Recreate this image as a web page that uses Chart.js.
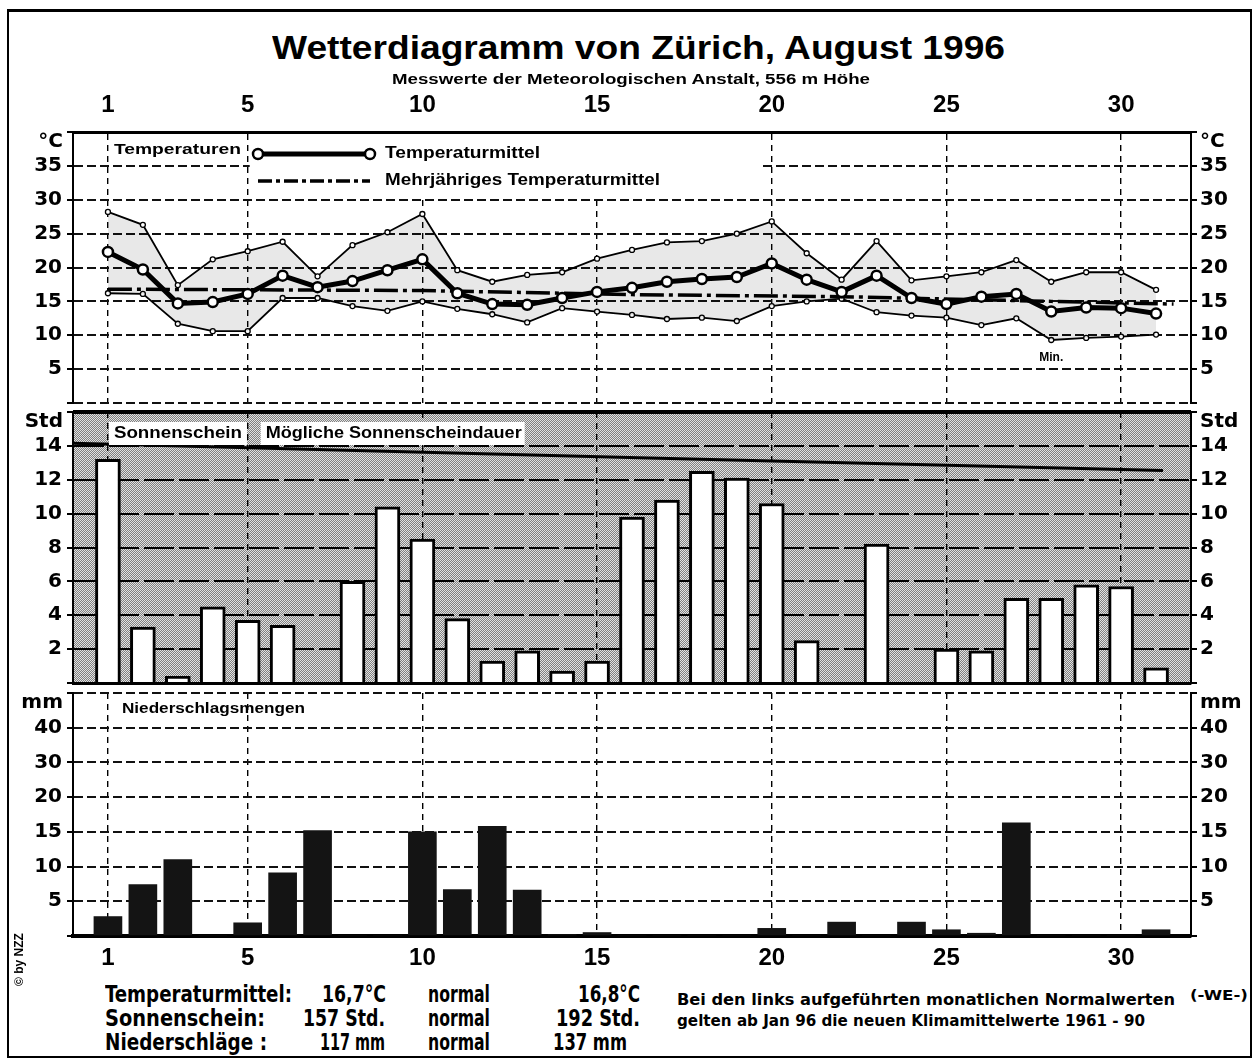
<!DOCTYPE html>
<html lang="de">
<head>
<meta charset="UTF-8">
<title>Wetterdiagramm von Zürich, August 1996</title>
<script src="https://cdn.jsdelivr.net/npm/chart.js@4.4.0/dist/chart.umd.min.js"></script>
<style>
    body { margin: 0; background: #fff; }
    #page { position: relative; width: 1260px; height: 1061px; overflow: hidden; background: #fff; }
    #frame { position: absolute; left: 7px; top: 9px; width: 1245px; height: 1049px; box-sizing: border-box;
             border: 2px solid #000; border-top-width: 3px; }
    canvas { position: absolute; left: 0; }
    .txt { position: absolute; white-space: nowrap; color: #000; line-height: 1.2; transform-origin: 0 50%; }
</style>
</head>
<body>
<div id="page">
    <div id="frame"></div>
    <canvas id="tempChart" width="1260" height="340" style="top:80px"></canvas>
    <canvas id="sunChart" width="1260" height="305" style="top:395px"></canvas>
    <canvas id="rainChart" width="1260" height="304" style="top:676px"></canvas>
</div>

<script>
    // Days of August 1996
    const days = [1, 2, 3, 4, 5, 6, 7, 8, 9, 10, 11, 12, 13, 14, 15, 16,
                  17, 18, 19, 20, 21, 22, 23, 24, 25, 26, 27, 28, 29, 30, 31];
    const dayTicks = [1, 5, 10, 15, 20, 25, 30];

    // Temperatures (°C)
    const tempMean = [22.3, 19.7, 14.7, 14.9, 16.1, 18.8, 17.1, 18.0, 19.6, 21.2, 16.2, 14.6, 14.5, 15.5, 16.4, 17.0,
                      17.9, 18.3, 18.6, 20.6, 18.2, 16.4, 18.8, 15.5, 14.6, 15.7, 16.1, 13.5, 14.1, 14.0, 13.2];
    const tempMax = [28.2, 26.3, 17.4, 21.2, 22.4, 23.8, 18.7, 23.3, 25.2, 27.9, 19.6, 17.9, 18.9, 19.3, 21.3, 22.6,
                     23.7, 23.9, 25.0, 26.8, 22.1, 18.2, 23.9, 18.1, 18.7, 19.3, 21.1, 17.9, 19.3, 19.3, 16.7];
    const tempMin = [16.2, 16.1, 11.7, 10.6, 10.6, 15.5, 15.5, 14.3, 13.6, 15.0, 13.9, 13.1, 11.9, 14.0, 13.5, 13.0,
                     12.4, 12.6, 12.1, 14.3, 15.0, 15.4, 13.4, 12.9, 12.6, 11.5, 12.5, 9.3, 9.6, 9.8, 10.1];
    const normalDays = [1, 10, 16, 22, 28, 31.5];
    const normalTemp = [16.8, 16.6, 16.0, 15.7, 15.0, 14.6];
    const tempTicks = [0, 5, 10, 15, 20, 25, 30, 35, 40];

    // Sunshine (hours)
    const sunHours = [13.2, 3.3, 0.4, 4.5, 3.7, 3.4, 0, 6.0, 10.4, 8.5, 3.8, 1.3, 1.9, 0.7, 1.3, 9.8,
                      10.8, 12.5, 12.1, 10.6, 2.5, 0, 8.2, 0, 2.0, 1.9, 5.0, 5.0, 5.8, 5.7, 0.9];
    const possibleDays = [0, 16.2, 31.2];
    const possibleHours = [14.15, 13.3, 12.55];
    const sunTicks = [0, 2, 4, 6, 8, 10, 12, 14, 16];

    // Precipitation (mm)
    const rainMm = [2.8, 7.4, 11.0, 0, 1.9, 9.1, 15.2, 0, 0, 15.0, 6.7, 15.8, 6.6, 0.2, 0.5, 0,
                    0, 0, 0, 1.1, 0, 2.0, 0, 2.0, 0.9, 0.4, 16.3, 0, 0, 0, 0.9];
    const rainTicks = [0, 5, 10, 15, 20, 30, 40, 50];

    // Monthly summary
    const summaryLabels = ['Temperaturmittel:', 'Sonnenschein:', 'Niederschläge :'];
    const summaryValues = ['16,7°C', '157 Std.', '117 mm'];
    const summaryNormals = ['16,8°C', '192 Std.', '137 mm'];

    const TICK_FONT = { family: '"DejaVu Sans", sans-serif', size: 20, weight: 'bold' };
    const DAY_FONT = { family: '"Liberation Sans", Arial, sans-serif', size: 24, weight: 'bold' };
    const LABEL_FAMILY = '"Liberation Sans", Arial, sans-serif';

    const pts = (xs, ys) => xs.map((x, i) => ({ x: x, y: ys[i] }));

    // draw canvas text squeezed/stretched to a given width
    function fitText(ctx, text, x, y, width) {
        const w = ctx.measureText(text).width;
        ctx.save();
        ctx.translate(x, y);
        ctx.scale(width / w, 1);
        ctx.fillText(text, 0, 0);
        ctx.restore();
    }

    // y axis with equal steps 0-5-10-15-20 and then 30-40-50 (precipitation panel)
    class SplitScale extends Chart.LinearScale {
        static id = 'split';
        toStep(v) { return v <= 20 ? v / 5 : 4 + (v - 20) / 10; }
        fromStep(p) { return p <= 4 ? p * 5 : 20 + (p - 4) * 10; }
        buildTicks() { return rainTicks.map(v => ({ value: v })); }
        getPixelForValue(v) { return this.getPixelForDecimal(this.toStep(v) / 7); }
        getValueForPixel(px) { return this.fromStep(this.getDecimalForPixel(px) * 7); }
    }
    Chart.register(SplitScale);

    function xScale(position, showLabels, height, borderWidth) {
        return {
            type: 'linear', min: 0, max: 32, position: position, offset: false,
            afterBuildTicks: s => { s.ticks = dayTicks.map(v => ({ value: v })); },
            afterFit: s => { s.height = height; },
            grid: { color: '#000', lineWidth: 1.4, drawTicks: false, offset: false },
            border: { color: '#000', width: borderWidth, dash: [6, 5] },
            ticks: { display: showLabels, color: '#000', font: DAY_FONT, padding: position === 'top' ? 12 : 8, maxRotation: 0 }
        };
    }

    // left/right value axis; top value carries the unit (drawn separately), zero stays blank
    function yScale(side, type, max, tickValues, gridStyle) {
        const left = side === 'left';
        return {
            type: type, min: 0, max: max, position: side,
            afterBuildTicks: s => { s.ticks = tickValues.map(v => ({ value: v })); },
            afterFit: s => { s.width = left ? 73 : 69; },
            grid: Object.assign({ drawOnChartArea: left, tickLength: 6, tickColor: '#000', tickWidth: 2 }, gridStyle),
            border: Object.assign({ color: '#000', width: 2 }, gridStyle.border || {}),
            ticks: {
                color: '#000', font: TICK_FONT, padding: left ? 5 : 3, autoSkip: false,
                callback: v => (v === 0 || v === max ? '' : v)
            }
        };
    }

    // unit labels at the top of each panel, both sides
    function unitPlugin(text) {
        return {
            id: 'unit',
            afterDraw(chart) {
                const { ctx, chartArea } = chart;
                ctx.save();
                ctx.font = 'bold 20px "DejaVu Sans", sans-serif';
                ctx.fillStyle = '#000';
                ctx.textBaseline = 'middle';
                ctx.textAlign = 'right';
                ctx.fillText(text, chartArea.left - 10, chartArea.top + 10);
                ctx.textAlign = 'left';
                ctx.fillText(text, chartArea.right + 9, chartArea.top + 10);
                ctx.restore();
            }
        };
    }

    const common = {
        responsive: false,
        animation: false,
        events: [],
        plugins: { legend: { display: false }, tooltip: { enabled: false } }
    };

    // ---------- Temperature panel ----------
    const tempLegend = {
        id: 'tempLegend',
        beforeDatasetsDraw(chart) {
            const { ctx, chartArea, scales } = chart;
            const x0 = scales.x.getPixelForValue(5) + 2;
            const x1 = scales.x.getPixelForValue(19.7);
            ctx.save();
            ctx.fillStyle = '#fff';
            ctx.fillRect(x0, chartArea.top + 2, x1 - x0, 64);
            ctx.restore();
        },
        afterDatasetsDraw(chart) {
            const { ctx, chartArea, scales } = chart;
            const top = chartArea.top;
            ctx.save();
            ctx.fillStyle = '#000';
            ctx.strokeStyle = '#000';
            ctx.textBaseline = 'middle';
            ctx.font = 'bold 15px ' + LABEL_FAMILY;
            fitText(ctx, 'Temperaturen', scales.x.getPixelForValue(1) + 6, top + 18, 127);

            // mean sample
            ctx.lineWidth = 5;
            ctx.beginPath(); ctx.moveTo(258, top + 22); ctx.lineTo(370, top + 22); ctx.stroke();
            [258, 370].forEach(x => {
                ctx.beginPath(); ctx.arc(x, top + 22, 5, 0, Math.PI * 2);
                ctx.fillStyle = '#fff'; ctx.fill(); ctx.lineWidth = 2.5; ctx.stroke();
            });
            // long-term sample
            ctx.lineWidth = 3.5;
            ctx.setLineDash([14, 4, 4, 4]);
            ctx.beginPath(); ctx.moveTo(258, top + 49); ctx.lineTo(370, top + 49); ctx.stroke();
            ctx.setLineDash([]);

            ctx.fillStyle = '#000';
            ctx.font = 'bold 16px ' + LABEL_FAMILY;
            fitText(ctx, 'Temperaturmittel', 385, top + 22, 155);
            fitText(ctx, 'Mehrjähriges Temperaturmittel', 385, top + 49, 275);

            ctx.font = 'bold 12px ' + LABEL_FAMILY;
            ctx.textAlign = 'center';
            ctx.fillText('Min.', scales.x.getPixelForValue(28), scales.y.getPixelForValue(6.7));
            ctx.restore();
        }
    };

    const tempGrid = { color: '#111', lineWidth: 2, border: { dash: [9, 4] } };

    new Chart(document.getElementById('tempChart'), {
        type: 'line',
        data: {
            datasets: [
                {
                    label: 'Temperaturmittel', data: pts(days, tempMean), order: 0,
                    borderColor: '#000', borderWidth: 5, tension: 0,
                    pointRadius: 5, pointBackgroundColor: '#fff', pointBorderColor: '#000', pointBorderWidth: 2.5
                },
                {
                    label: 'Mehrjähriges Temperaturmittel', data: pts(normalDays, normalTemp), order: 1,
                    borderColor: '#000', borderWidth: 3.5, borderDash: [24, 5, 4, 5], pointRadius: 0, tension: 0
                },
                {
                    label: 'Max.', data: pts(days, tempMax), order: 2,
                    borderColor: '#000', borderWidth: 1.8, tension: 0,
                    pointRadius: 2.5, pointBackgroundColor: '#fff', pointBorderColor: '#000', pointBorderWidth: 1.3,
                    fill: '+1', backgroundColor: 'rgba(0,0,0,0.09)'
                },
                {
                    label: 'Min.', data: pts(days, tempMin), order: 3,
                    borderColor: '#000', borderWidth: 1.8, tension: 0,
                    pointRadius: 2.5, pointBackgroundColor: '#fff', pointBorderColor: '#000', pointBorderWidth: 1.3
                }
            ]
        },
        options: Object.assign({}, common, {
            layout: { autoPadding: false, padding: { top: 0, bottom: 9, left: 0, right: 0 } },
            scales: {
                x: xScale('top', true, 52, 3),
                y: yScale('left', 'linear', 40, tempTicks, tempGrid),
                y2: yScale('right', 'linear', 40, tempTicks, tempGrid)
            }
        }),
        plugins: [tempLegend, unitPlugin('°C')]
    });

    // ---------- Sunshine panel ----------
    function halftone() {
        const c = document.createElement('canvas');
        c.width = 2; c.height = 2;
        const g = c.getContext('2d');
        g.fillStyle = '#e2e2e2'; g.fillRect(0, 0, 2, 2);
        g.fillStyle = '#808080'; g.fillRect(0, 0, 1, 1); g.fillRect(1, 1, 1, 1);
        return g.createPattern(c, 'repeat');
    }

    const sunDecor = {
        id: 'sunDecor',
        beforeDraw(chart) {
            const { ctx, chartArea } = chart;
            ctx.save();
            ctx.fillStyle = halftone();
            ctx.fillRect(chartArea.left, chartArea.top, chartArea.right - chartArea.left, chartArea.bottom - chartArea.top);
            ctx.restore();
        },
        beforeDatasetsDraw(chart) {
            // solid heavy separator between temperature and sunshine panels
            const { ctx, chartArea } = chart;
            ctx.save();
            ctx.strokeStyle = '#000';
            ctx.lineWidth = 4;
            ctx.beginPath();
            ctx.moveTo(chartArea.left, chartArea.top);
            ctx.lineTo(chartArea.right, chartArea.top);
            ctx.stroke();
            ctx.restore();
        },
        afterDatasetsDraw(chart) {
            const { ctx, chartArea, scales } = chart;
            const top = chartArea.top;
            ctx.save();
            ctx.font = 'bold 16px ' + LABEL_FAMILY;
            ctx.textBaseline = 'middle';
            const boxes = [['Sonnenschein', scales.x.getPixelForValue(1) + 1, 138, 128],
                           ['Mögliche Sonnenscheindauer', scales.x.getPixelForValue(5) + 13, 264, 256]];
            boxes.forEach(([t, x, w, tw]) => {
                ctx.fillStyle = '#fff';
                ctx.fillRect(x, top + 10, w, 23);
                ctx.fillStyle = '#000';
                fitText(ctx, t, x + 5, top + 22, tw);
            });
            ctx.restore();
        }
    };

    const sunGrid = { color: '#000', lineWidth: 2, border: { dash: [30, 5] } };

    new Chart(document.getElementById('sunChart'), {
        type: 'bar',
        data: {
            datasets: [
                {
                    type: 'line', label: 'Mögliche Sonnenscheindauer', data: pts(possibleDays, possibleHours),
                    borderColor: '#000', borderWidth: 3, pointRadius: 0, tension: 0, order: 0
                },
                {
                    label: 'Sonnenschein', data: pts(days, sunHours), order: 1,
                    backgroundColor: '#fff', borderColor: '#000', borderWidth: 3, barThickness: 25
                }
            ]
        },
        options: Object.assign({}, common, {
            layout: { autoPadding: false, padding: { top: 16, bottom: 10, left: 0, right: 0 } },
            scales: {
                x: xScale('bottom', false, 0, 3),
                y: yScale('left', 'linear', 16, sunTicks, sunGrid),
                y2: yScale('right', 'linear', 16, sunTicks, sunGrid)
            }
        }),
        plugins: [sunDecor, unitPlugin('Std')]
    });

    // ---------- Precipitation panel ----------
    const rainLabel = {
        id: 'rainLabel',
        afterDatasetsDraw(chart) {
            const { ctx, chartArea, scales } = chart;
            ctx.save();
            ctx.font = 'bold 15px ' + LABEL_FAMILY;
            ctx.fillStyle = '#000';
            ctx.textBaseline = 'middle';
            fitText(ctx, 'Niederschlagsmengen', scales.x.getPixelForValue(1) + 14, chartArea.top + 16, 183);
            ctx.restore();
        }
    };

    const rainGrid = { color: '#111', lineWidth: 2, border: { dash: [9, 4] } };

    new Chart(document.getElementById('rainChart'), {
        type: 'bar',
        data: {
            datasets: [{
                label: 'Niederschlag', data: pts(days, rainMm),
                backgroundColor: '#141414', borderWidth: 0, barThickness: 28
            }]
        },
        options: Object.assign({}, common, {
            layout: { autoPadding: false, padding: { top: 14, bottom: 0, left: 0, right: 0 } },
            scales: {
                x: xScale('bottom', true, 44, 4),
                y: yScale('left', 'split', 50, rainTicks, rainGrid),
                y2: yScale('right', 'split', 50, rainTicks, rainGrid)
            }
        }),
        plugins: [rainLabel, unitPlugin('mm')]
    });

    // ---------- Texts ----------
    const page = document.getElementById('page');
    const NARROW = '"Liberation Sans Narrow", "DejaVu Sans Condensed", "Liberation Sans", sans-serif';

    function addText(str, x, y, size, weight, width, family) {
        const el = document.createElement('div');
        el.className = 'txt';
        el.textContent = str;
        el.style.font = weight + ' ' + size + 'px ' + family;
        el.style.lineHeight = '1.2';
        el.style.left = x + 'px';
        el.style.top = (y - size * 0.6) + 'px';
        page.appendChild(el);
        if (width) {
            const w = el.getBoundingClientRect().width;
            el.style.transform = 'scaleX(' + (width / w) + ')';
        }
        return el;
    }

    addText('Wetterdiagramm von Zürich, August 1996', 272, 47, 34, 'bold', 733, LABEL_FAMILY);
    addText('Messwerte der Meteorologischen Anstalt, 556 m Höhe', 392, 79, 15, 'bold', 478, LABEL_FAMILY);

    const rowY = [995, 1019, 1043];
    const labelW = [187, 160, 162];
    const valueX = [322, 303, 320], valueW = [64, 82, 65];
    const normX = [578, 556, 553], normW = [62, 84, 74];
    summaryLabels.forEach((t, i) => {
        addText(t, 105, rowY[i], 23, 'bold', labelW[i], NARROW);
        addText(summaryValues[i], valueX[i], rowY[i], 23, 'bold', valueW[i], NARROW);
        addText('normal', 428, rowY[i], 23, 'bold', 62, NARROW);
        addText(summaryNormals[i], normX[i], rowY[i], 23, 'bold', normW[i], NARROW);
    });

    addText('Bei den links aufgeführten monatlichen Normalwerten', 677, 1000, 16, 'bold', 498, NARROW);
    addText('gelten ab Jan 96 die neuen Klimamittelwerte 1961 - 90', 677, 1021, 16, 'bold', 468, NARROW);
    addText('(-WE-)', 1190, 995, 14, 'bold', 58, NARROW);

    const nzz = addText('© by NZZ', 0, 0, 12, 'bold', 0, LABEL_FAMILY);
    nzz.style.transformOrigin = '0 0';
    nzz.style.left = '12px';
    nzz.style.top = '986px';
    nzz.style.transform = 'rotate(-90deg)';
</script>
</body>
</html>
